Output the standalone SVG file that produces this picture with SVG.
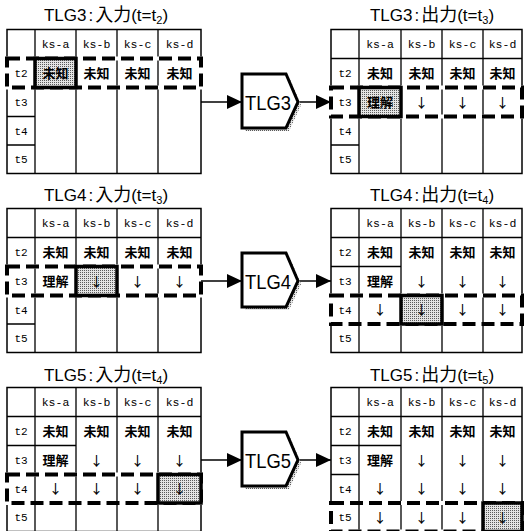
<svg xmlns="http://www.w3.org/2000/svg" width="524" height="531" viewBox="0 0 524 531">
<defs>
<pattern id="dots" width="2" height="2" patternUnits="userSpaceOnUse"><rect width="2" height="2" fill="#e4e4e4"/><rect width="1" height="1" fill="#5a5a5a"/></pattern>
<marker id="ah" markerUnits="userSpaceOnUse" markerWidth="15" markerHeight="14" refX="15" refY="7" orient="auto"><path d="M0,0 L15,7 L0,14 z" fill="#000"/></marker>
<style>
.outer{stroke:#000;stroke-width:1.5;fill:none}
.g{stroke:#000;stroke-width:1.3;fill:none}
.knock{stroke:#fff;stroke-width:4;fill:none}
.dash{stroke:#000;stroke-width:4;stroke-dasharray:13 6;fill:none}
.sel{stroke:#000;stroke-width:3.5;fill:url(#dots)}
.hd{font-family:"Liberation Mono",monospace;font-size:11.5px;text-anchor:middle;fill:#000}
.rl{font-family:"Liberation Mono",monospace;font-size:11px;text-anchor:middle;fill:#000}
.jp{font-family:"Noto Sans CJK JP",sans-serif;font-weight:bold;font-size:13px;text-anchor:middle;fill:#000}
.ar{font-family:"Noto Sans CJK JP",sans-serif;font-size:13px;font-weight:500;text-anchor:middle;fill:#000;opacity:0.99}
.ttl{font-family:"Liberation Sans","Noto Sans CJK JP",sans-serif;font-size:17px;text-anchor:middle;fill:#000}
.cj{font-family:"Noto Sans CJK JP",sans-serif;font-size:18px}
.sb{font-size:11px}
.nd{stroke:#000;stroke-width:3;fill:#fff}
.sh{fill:url(#dots);stroke:none}
.nt{font-family:"Liberation Sans",sans-serif;font-size:21px;text-anchor:middle;fill:#000}
.cn{stroke:#000;stroke-width:1.3;fill:none;marker-end:url(#ah)}
</style>
</defs>
<rect width="524" height="531" fill="#fff"/>

<g id="titles">
<text class="ttl" x="106" y="20.5">TLG3<tspan dx="2">:</tspan><tspan class="cj" dx="2">入力</tspan>(t=t<tspan class="sb" dy="3">2</tspan><tspan dy="-3">)</tspan></text>
<text class="ttl" x="432" y="20.5">TLG3<tspan dx="2">:</tspan><tspan class="cj" dx="2">出力</tspan>(t=t<tspan class="sb" dy="3">3</tspan><tspan dy="-3">)</tspan></text>
<text class="ttl" x="106" y="200.5">TLG4<tspan dx="2">:</tspan><tspan class="cj" dx="2">入力</tspan>(t=t<tspan class="sb" dy="3">3</tspan><tspan dy="-3">)</tspan></text>
<text class="ttl" x="432" y="200.5">TLG4<tspan dx="2">:</tspan><tspan class="cj" dx="2">出力</tspan>(t=t<tspan class="sb" dy="3">4</tspan><tspan dy="-3">)</tspan></text>
<text class="ttl" x="106" y="380.5">TLG5<tspan dx="2">:</tspan><tspan class="cj" dx="2">入力</tspan>(t=t<tspan class="sb" dy="3">4</tspan><tspan dy="-3">)</tspan></text>
<text class="ttl" x="432" y="380.5">TLG5<tspan dx="2">:</tspan><tspan class="cj" dx="2">出力</tspan>(t=t<tspan class="sb" dy="3">5</tspan><tspan dy="-3">)</tspan></text>
</g>

<g id="tlg3-in">
<rect class="outer" x="7" y="29.5" width="194" height="144"/>
<path class="g" d="M35 29.5V173.5M76 29.5V173.5M117 29.5V173.5M158 29.5V173.5M7 116.5H35M7 145H35"/>
<rect class="knock" x="7" y="58.5" width="194" height="29"/>
<rect class="dash" x="7" y="58.5" width="194" height="29"/>
<rect class="sel" x="35" y="58.5" width="41" height="29"/>
<text class="hd" x="55.5" y="48">ks-a</text><text class="hd" x="96.5" y="48">ks-b</text><text class="hd" x="137.5" y="48">ks-c</text><text class="hd" x="179.5" y="48">ks-d</text>
<text class="rl" x="21" y="77">t2</text><text class="rl" x="21" y="106">t3</text><text class="rl" x="21" y="134.75">t4</text><text class="rl" x="21" y="163.25">t5</text>
<text class="jp" x="55.5" y="77.5">未知</text><text class="jp" x="96.5" y="77.5">未知</text><text class="jp" x="137.5" y="77.5">未知</text><text class="jp" x="179.5" y="77.5">未知</text>
</g>

<g id="tlg3-out">
<rect class="outer" x="331" y="29.5" width="191" height="144"/>
<path class="g" d="M359 29.5V173.5M401 29.5V173.5M442 29.5V173.5M483 29.5V173.5M331 58.5H522M331 145H359"/>
<rect class="knock" x="331" y="87.5" width="191" height="29"/>
<rect class="dash" x="331" y="87.5" width="191" height="29"/>
<rect class="sel" x="359" y="87.5" width="42" height="29"/>
<text class="hd" x="380" y="48">ks-a</text><text class="hd" x="421.5" y="48">ks-b</text><text class="hd" x="462.5" y="48">ks-c</text><text class="hd" x="502.5" y="48">ks-d</text>
<text class="rl" x="345" y="77">t2</text><text class="rl" x="345" y="106">t3</text><text class="rl" x="345" y="134.75">t4</text><text class="rl" x="345" y="163.25">t5</text>
<text class="jp" x="380" y="77.5">未知</text><text class="jp" x="421.5" y="77.5">未知</text><text class="jp" x="462.5" y="77.5">未知</text><text class="jp" x="502.5" y="77.5">未知</text>
<text class="jp" x="380" y="106.5">理解</text><text class="ar" x="421.5" y="106.5">↓</text><text class="ar" x="462.5" y="106.5">↓</text><text class="ar" x="502.5" y="106.5">↓</text>
</g>

<g id="tlg4-in">
<rect class="outer" x="7" y="208.5" width="194" height="144"/>
<path class="g" d="M35 208.5V352.5M76 208.5V352.5M117 208.5V352.5M158 208.5V352.5M7 237.5H201M7 324H35"/>
<rect class="knock" x="7" y="266.5" width="194" height="29"/>
<rect class="dash" x="7" y="266.5" width="194" height="29"/>
<rect class="sel" x="76" y="266.5" width="41" height="29"/>
<text class="hd" x="55.5" y="227">ks-a</text><text class="hd" x="96.5" y="227">ks-b</text><text class="hd" x="137.5" y="227">ks-c</text><text class="hd" x="179.5" y="227">ks-d</text>
<text class="rl" x="21" y="256">t2</text><text class="rl" x="21" y="285">t3</text><text class="rl" x="21" y="313.75">t4</text><text class="rl" x="21" y="342.25">t5</text>
<text class="jp" x="55.5" y="256.5">未知</text><text class="jp" x="96.5" y="256.5">未知</text><text class="jp" x="137.5" y="256.5">未知</text><text class="jp" x="179.5" y="256.5">未知</text>
<text class="jp" x="55.5" y="285.5">理解</text><text class="ar" x="96.5" y="285.5">↓</text><text class="ar" x="137.5" y="285.5">↓</text><text class="ar" x="179.5" y="285.5">↓</text>
</g>

<g id="tlg4-out">
<rect class="outer" x="331" y="208.5" width="191" height="144"/>
<path class="g" d="M359 208.5V352.5M401 208.5V352.5M442 208.5V352.5M483 208.5V352.5M331 237.5H522M331 266.5H401"/>
<rect class="knock" x="331" y="295.5" width="191" height="28.5"/>
<rect class="dash" x="331" y="295.5" width="191" height="28.5"/>
<rect class="sel" x="401" y="295.5" width="41" height="28.5"/>
<text class="hd" x="380" y="227">ks-a</text><text class="hd" x="421.5" y="227">ks-b</text><text class="hd" x="462.5" y="227">ks-c</text><text class="hd" x="502.5" y="227">ks-d</text>
<text class="rl" x="345" y="256">t2</text><text class="rl" x="345" y="285">t3</text><text class="rl" x="345" y="313.75">t4</text><text class="rl" x="345" y="342.25">t5</text>
<text class="jp" x="380" y="256.5">未知</text><text class="jp" x="421.5" y="256.5">未知</text><text class="jp" x="462.5" y="256.5">未知</text><text class="jp" x="502.5" y="256.5">未知</text>
<text class="jp" x="380" y="285.5">理解</text><text class="ar" x="421.5" y="285.5">↓</text><text class="ar" x="462.5" y="285.5">↓</text><text class="ar" x="502.5" y="285.5">↓</text>
<text class="ar" x="380" y="314.25">↓</text><text class="ar" x="421.5" y="314.25">↓</text><text class="ar" x="462.5" y="314.25">↓</text><text class="ar" x="502.5" y="314.25">↓</text>
</g>

<g id="tlg5-in">
<rect class="outer" x="7" y="387.5" width="194" height="144"/>
<path class="g" d="M35 387.5V531.5M76 387.5V531.5M117 387.5V531.5M158 387.5V531.5M7 416.5H201M7 445.5H76"/>
<rect class="knock" x="7" y="474.5" width="194" height="28.5"/>
<rect class="dash" x="7" y="474.5" width="194" height="28.5"/>
<rect class="sel" x="158" y="474.5" width="43" height="28.5"/>
<text class="hd" x="55.5" y="406">ks-a</text><text class="hd" x="96.5" y="406">ks-b</text><text class="hd" x="137.5" y="406">ks-c</text><text class="hd" x="179.5" y="406">ks-d</text>
<text class="rl" x="21" y="435">t2</text><text class="rl" x="21" y="464">t3</text><text class="rl" x="21" y="492.75">t4</text><text class="rl" x="21" y="521.25">t5</text>
<text class="jp" x="55.5" y="435.5">未知</text><text class="jp" x="96.5" y="435.5">未知</text><text class="jp" x="137.5" y="435.5">未知</text><text class="jp" x="179.5" y="435.5">未知</text>
<text class="jp" x="55.5" y="464.5">理解</text><text class="ar" x="96.5" y="464.5">↓</text><text class="ar" x="137.5" y="464.5">↓</text><text class="ar" x="179.5" y="464.5">↓</text>
<text class="ar" x="55.5" y="493.25">↓</text><text class="ar" x="96.5" y="493.25">↓</text><text class="ar" x="137.5" y="493.25">↓</text><text class="ar" x="179.5" y="493.25">↓</text>
</g>

<g id="tlg5-out">
<rect class="outer" x="331" y="387.5" width="191" height="144"/>
<path class="g" d="M359 387.5V531.5M401 387.5V531.5M442 387.5V531.5M483 387.5V531.5M331 416.5H522M331 445.5H401M331 474.5H359"/>
<rect class="knock" x="331" y="503" width="191" height="28.5"/>
<rect class="dash" x="331" y="503" width="191" height="28.5"/>
<rect class="sel" x="483" y="503" width="39" height="28.5"/>
<text class="hd" x="380" y="406">ks-a</text><text class="hd" x="421.5" y="406">ks-b</text><text class="hd" x="462.5" y="406">ks-c</text><text class="hd" x="502.5" y="406">ks-d</text>
<text class="rl" x="345" y="435">t2</text><text class="rl" x="345" y="464">t3</text><text class="rl" x="345" y="492.75">t4</text><text class="rl" x="345" y="521.25">t5</text>
<text class="jp" x="380" y="435.5">未知</text><text class="jp" x="421.5" y="435.5">未知</text><text class="jp" x="462.5" y="435.5">未知</text><text class="jp" x="502.5" y="435.5">未知</text>
<text class="jp" x="380" y="464.5">理解</text><text class="ar" x="421.5" y="464.5">↓</text><text class="ar" x="462.5" y="464.5">↓</text><text class="ar" x="502.5" y="464.5">↓</text>
<text class="ar" x="380" y="493.25">↓</text><text class="ar" x="421.5" y="493.25">↓</text><text class="ar" x="462.5" y="493.25">↓</text><text class="ar" x="502.5" y="493.25">↓</text>
<text class="ar" x="380" y="521.75">↓</text><text class="ar" x="421.5" y="521.75">↓</text><text class="ar" x="462.5" y="521.75">↓</text><text class="ar" x="502.5" y="521.75">↓</text>
</g>

<g id="connectors">
<path class="cn" d="M201 102H242"/><path class="cn" d="M298 102H331"/>
<path class="cn" d="M201 281H242"/><path class="cn" d="M298 281H331"/>
<path class="cn" d="M201 460H242"/><path class="cn" d="M298 460H331"/>
</g>

<g id="tlg3">
<polygon class="sh" points="245,77 289,77 301,105 289,131 245,131"/>
<polygon class="nd" points="242,74 286,74 298,102 286,128 242,128"/>
<text class="nt" x="268" y="110" textLength="46" lengthAdjust="spacingAndGlyphs">TLG3</text>
</g>
<g id="tlg4">
<polygon class="sh" points="245,256 289,256 301,284 289,310 245,310"/>
<polygon class="nd" points="242,253 286,253 298,281 286,307 242,307"/>
<text class="nt" x="268" y="289" textLength="46" lengthAdjust="spacingAndGlyphs">TLG4</text>
</g>
<g id="tlg5">
<polygon class="sh" points="245,435 289,435 301,463 289,489 245,489"/>
<polygon class="nd" points="242,432 286,432 298,460 286,486 242,486"/>
<text class="nt" x="268" y="468" textLength="46" lengthAdjust="spacingAndGlyphs">TLG5</text>
</g>
</svg>
